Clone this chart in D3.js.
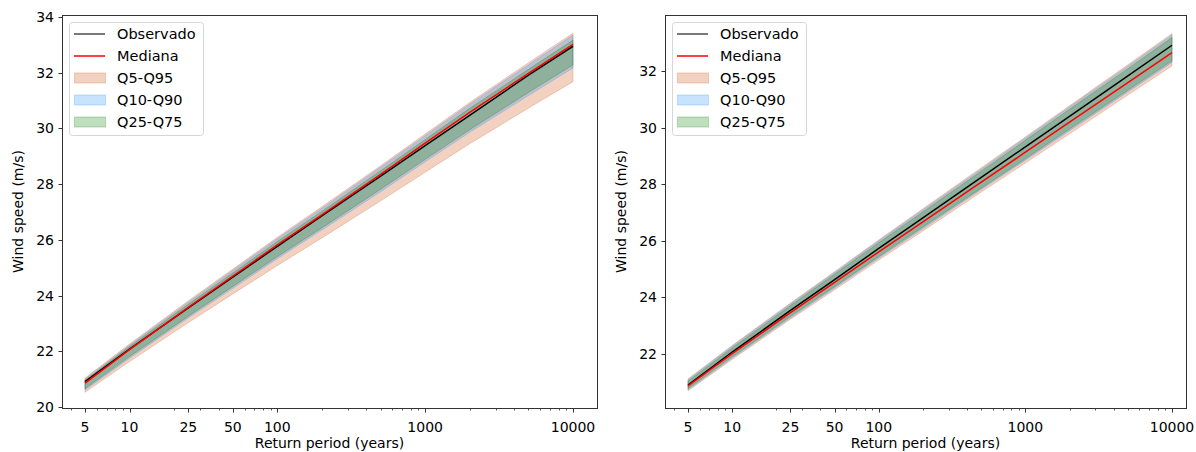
<!DOCTYPE html>
<html>
<head>
<meta charset="utf-8">
<script src="https://cdn.jsdelivr.net/npm/d3@7"></script>
<style>
  body { margin: 0; background: #fff; }
  text { font-family: "DejaVu Sans", sans-serif; fill: #000; }
</style>
</head>
<body>
<svg id="chart" width="1196" height="452"></svg>
<script>
// return periods (years)
var periods = [5, 10, 25, 50, 100, 200, 500, 1000, 2000, 5000, 10000]
var xTickVals = [5, 10, 25, 50, 100, 1000, 10000]

// left panel
var obsL    = [20.91, 22.08, 23.56, 24.66, 25.77, 26.86, 28.29, 29.38, 30.47, 31.91, 32.95]
var medL    = [20.86, 22.06, 23.58, 24.70, 25.82, 26.90, 28.35, 29.47, 30.58, 31.98, 33.02]
var q5L     = [20.53, 21.63, 23.03, 24.06, 25.08, 26.07, 27.40, 28.43, 29.45, 30.73, 31.68]
var q95L    = [21.04, 22.26, 23.81, 24.95, 26.09, 27.19, 28.66, 29.80, 30.93, 32.36, 33.42]
var q10L    = [20.61, 21.75, 23.20, 24.26, 25.33, 26.35, 27.73, 28.80, 29.86, 31.18, 32.17]
var q90L    = [21.00, 22.22, 23.76, 24.90, 26.04, 27.13, 28.61, 29.74, 30.87, 32.29, 33.35]
var q25L    = [20.66, 21.81, 23.26, 24.33, 25.40, 26.43, 27.82, 28.89, 29.95, 31.29, 32.28]
var q75L    = [20.96, 22.17, 23.69, 24.81, 25.94, 27.02, 28.48, 29.60, 30.72, 32.12, 33.17]

// right panel
var obsR    = [20.90, 22.07, 23.54, 24.63, 25.73, 26.81, 28.24, 29.32, 30.40, 31.83, 32.91]
var medR    = [20.87, 22.01, 23.46, 24.53, 25.61, 26.67, 28.07, 29.13, 30.19, 31.59, 32.65]
var q5R     = [20.70, 21.81, 23.23, 24.27, 25.32, 26.35, 27.72, 28.75, 29.78, 31.15, 32.18]
var q95R    = [21.12, 22.30, 23.80, 24.91, 26.03, 27.13, 28.58, 29.67, 30.77, 32.22, 33.32]
var q10R    = [20.74, 21.86, 23.28, 24.33, 25.39, 26.43, 27.81, 28.85, 29.89, 31.26, 32.30]
var q90R    = [21.09, 22.27, 23.77, 24.88, 26.00, 27.09, 28.53, 29.63, 30.73, 32.17, 33.27]
var q25R    = [20.78, 21.90, 23.33, 24.38, 25.44, 26.49, 27.86, 28.90, 29.95, 31.32, 32.36]
var q75R    = [21.04, 22.21, 23.71, 24.82, 25.93, 27.02, 28.46, 29.55, 30.65, 32.08, 33.18]

var legendNames = ["Observado", "Mediana", "Q5-Q95", "Q10-Q90", "Q25-Q75"]
var bandColors = ["#dc7c4c", "#1e90ff", "#008000"]

var svg = d3.select("#chart")

function drawPanel(p) {

	var x = d3.scaleLog().domain([5, 10000]).range(p.xr)
	var y = d3.scaleLinear().domain(p.yd).range(p.yr)
	var g = svg.append("g")

	var clipId = "clip" + p.id
	g.append("clipPath").attr("id", clipId)
		.append("rect").attr("x", p.left).attr("y", p.top)
		.attr("width", p.right - p.left).attr("height", p.bottom - p.top)

	var plot = g.append("g").attr("clip-path", "url(#" + clipId + ")")

	var area = (lo, hi) => d3.area()
		.x((d, i) => x(periods[i]))
		.y0((d, i) => y(lo[i]))
		.y1((d, i) => y(hi[i]))(periods)

	var line = (vals) => d3.line()
		.x((d, i) => x(periods[i]))
		.y((d, i) => y(vals[i]))(periods)

	var bands = [[p.q5, p.q95], [p.q10, p.q90], [p.q25, p.q75]]
	bands.forEach(function(b, i) {
		plot.append("path")
			.attr("d", area(b[0], b[1]))
			.attr("fill", bandColors[i]).attr("fill-opacity", i == 0 ? 0.35 : 0.25)
			.attr("stroke", bandColors[i]).attr("stroke-opacity", i == 0 ? 0.35 : 0.25)
			.attr("stroke-width", 1)
	})

	plot.append("path").attr("d", line(p.obs))
		.attr("fill", "none").attr("stroke", "#000").attr("stroke-width", 1.5)
	plot.append("path").attr("d", line(p.med))
		.attr("fill", "none").attr("stroke", "#ff0000").attr("stroke-width", 1.5)

	// frame
	g.append("rect")
		.attr("x", p.left + 0.5).attr("y", p.top + 0.5)
		.attr("width", p.right - p.left).attr("height", p.bottom - p.top)
		.attr("fill", "none").attr("stroke", "#333").attr("stroke-width", 1)

	// x axis: major + minor ticks
	var minors = []
	for (var k = 0; k <= 4; k++) {
		for (var m = 2; m <= 9; m++) {
			var v = m * Math.pow(10, k)
			if (xTickVals.indexOf(v) < 0) minors.push(v)
		}
	}
	minors = minors.filter((v) => x(v) > p.left && x(v) < p.right)

	var axB = g.append("g")
	axB.selectAll("line.minor").data(minors).enter().append("line")
		.attr("x1", (d) => Math.round(x(d)) + 0.5).attr("x2", (d) => Math.round(x(d)) + 0.5)
		.attr("y1", p.bottom + 0.5).attr("y2", p.bottom + 2.5)
		.attr("stroke", "#333").attr("stroke-width", 0.8)
	axB.selectAll("line.major").data(xTickVals).enter().append("line")
		.attr("x1", (d) => Math.round(x(d)) + 0.5).attr("x2", (d) => Math.round(x(d)) + 0.5)
		.attr("y1", p.bottom + 0.5).attr("y2", p.bottom + 4.5)
		.attr("stroke", "#333").attr("stroke-width", 1)
	axB.selectAll("text").data(xTickVals).enter().append("text")
		.attr("x", (d) => x(d)).attr("y", p.bottom + 24)
		.attr("text-anchor", "middle").style("font-size", "14px")
		.text((d) => d)

	// y axis
	var yt = d3.range(20, 35, 2).filter((v) => y(v) >= p.top && y(v) <= p.bottom)
	var axL = g.append("g")
	axL.selectAll("line").data(yt).enter().append("line")
		.attr("x1", p.left - 3.5).attr("x2", p.left + 0.5)
		.attr("y1", (d) => Math.round(y(d)) + 0.5).attr("y2", (d) => Math.round(y(d)) + 0.5)
		.attr("stroke", "#333").attr("stroke-width", 1)
	axL.selectAll("text").data(yt).enter().append("text")
		.attr("x", p.left - 8).attr("y", (d) => y(d) + 5)
		.attr("text-anchor", "end").style("font-size", "14px")
		.text((d) => d)

	g.append("text")
		.attr("transform", "translate(" + (p.left - 39) + "," + ((p.top + p.bottom) / 2) + ") rotate(-90)")
		.attr("text-anchor", "middle").style("font-size", "14px")
		.text("Wind speed (m/s)")
	g.append("text")
		.attr("x", (p.left + p.right) / 2).attr("y", 447.5)
		.attr("text-anchor", "middle").style("font-size", "14px")
		.text("Return period (years)")

	// legend
	var lx = p.left + 7, ly = p.top + 7
	var leg = g.append("g")
	leg.append("rect")
		.attr("x", lx + 0.5).attr("y", ly + 0.5).attr("width", 134).attr("height", 113)
		.attr("rx", 3).attr("fill", "#fff").attr("fill-opacity", 0.8)
		.attr("stroke", "#d6d6d6").attr("stroke-width", 1)
	legendNames.forEach(function(name, i) {
		var cy = ly + 12 + i * 22
		if (i < 2) {
			leg.append("line")
				.attr("x1", lx + 5).attr("x2", lx + 36).attr("y1", cy).attr("y2", cy)
				.attr("stroke", i == 0 ? "#000" : "#ff0000").attr("stroke-width", 1.5)
				.attr("stroke-opacity", i == 0 ? 0.7 : 1)
		} else {
			leg.append("rect")
				.attr("x", lx + 5.5).attr("y", cy - 5).attr("width", 31).attr("height", 10)
				.attr("fill", bandColors[i - 2]).attr("fill-opacity", i == 2 ? 0.35 : 0.25)
				.attr("stroke", bandColors[i - 2]).attr("stroke-opacity", i == 2 ? 0.35 : 0.25)
		}
		leg.append("text")
			.attr("x", lx + 48).attr("y", cy + 5)
			.style("font-size", "14.5px")
			.text(name)
	})
}

drawPanel({
	id: "L", left: 62, right: 597, top: 15, bottom: 408,
	xr: [85, 573], yd: [20, 34], yr: [407, 17],
	obs: obsL, med: medL, q5: q5L, q95: q95L, q10: q10L, q90: q90L, q25: q25L, q75: q75L
})

drawPanel({
	id: "R", left: 665, right: 1186, top: 15, bottom: 408,
	xr: [688, 1172], yd: [22, 32], yr: [354, 71],
	obs: obsR, med: medR, q5: q5R, q95: q95R, q10: q10R, q90: q90R, q25: q25R, q75: q75R
})
</script>
</body>
</html>
